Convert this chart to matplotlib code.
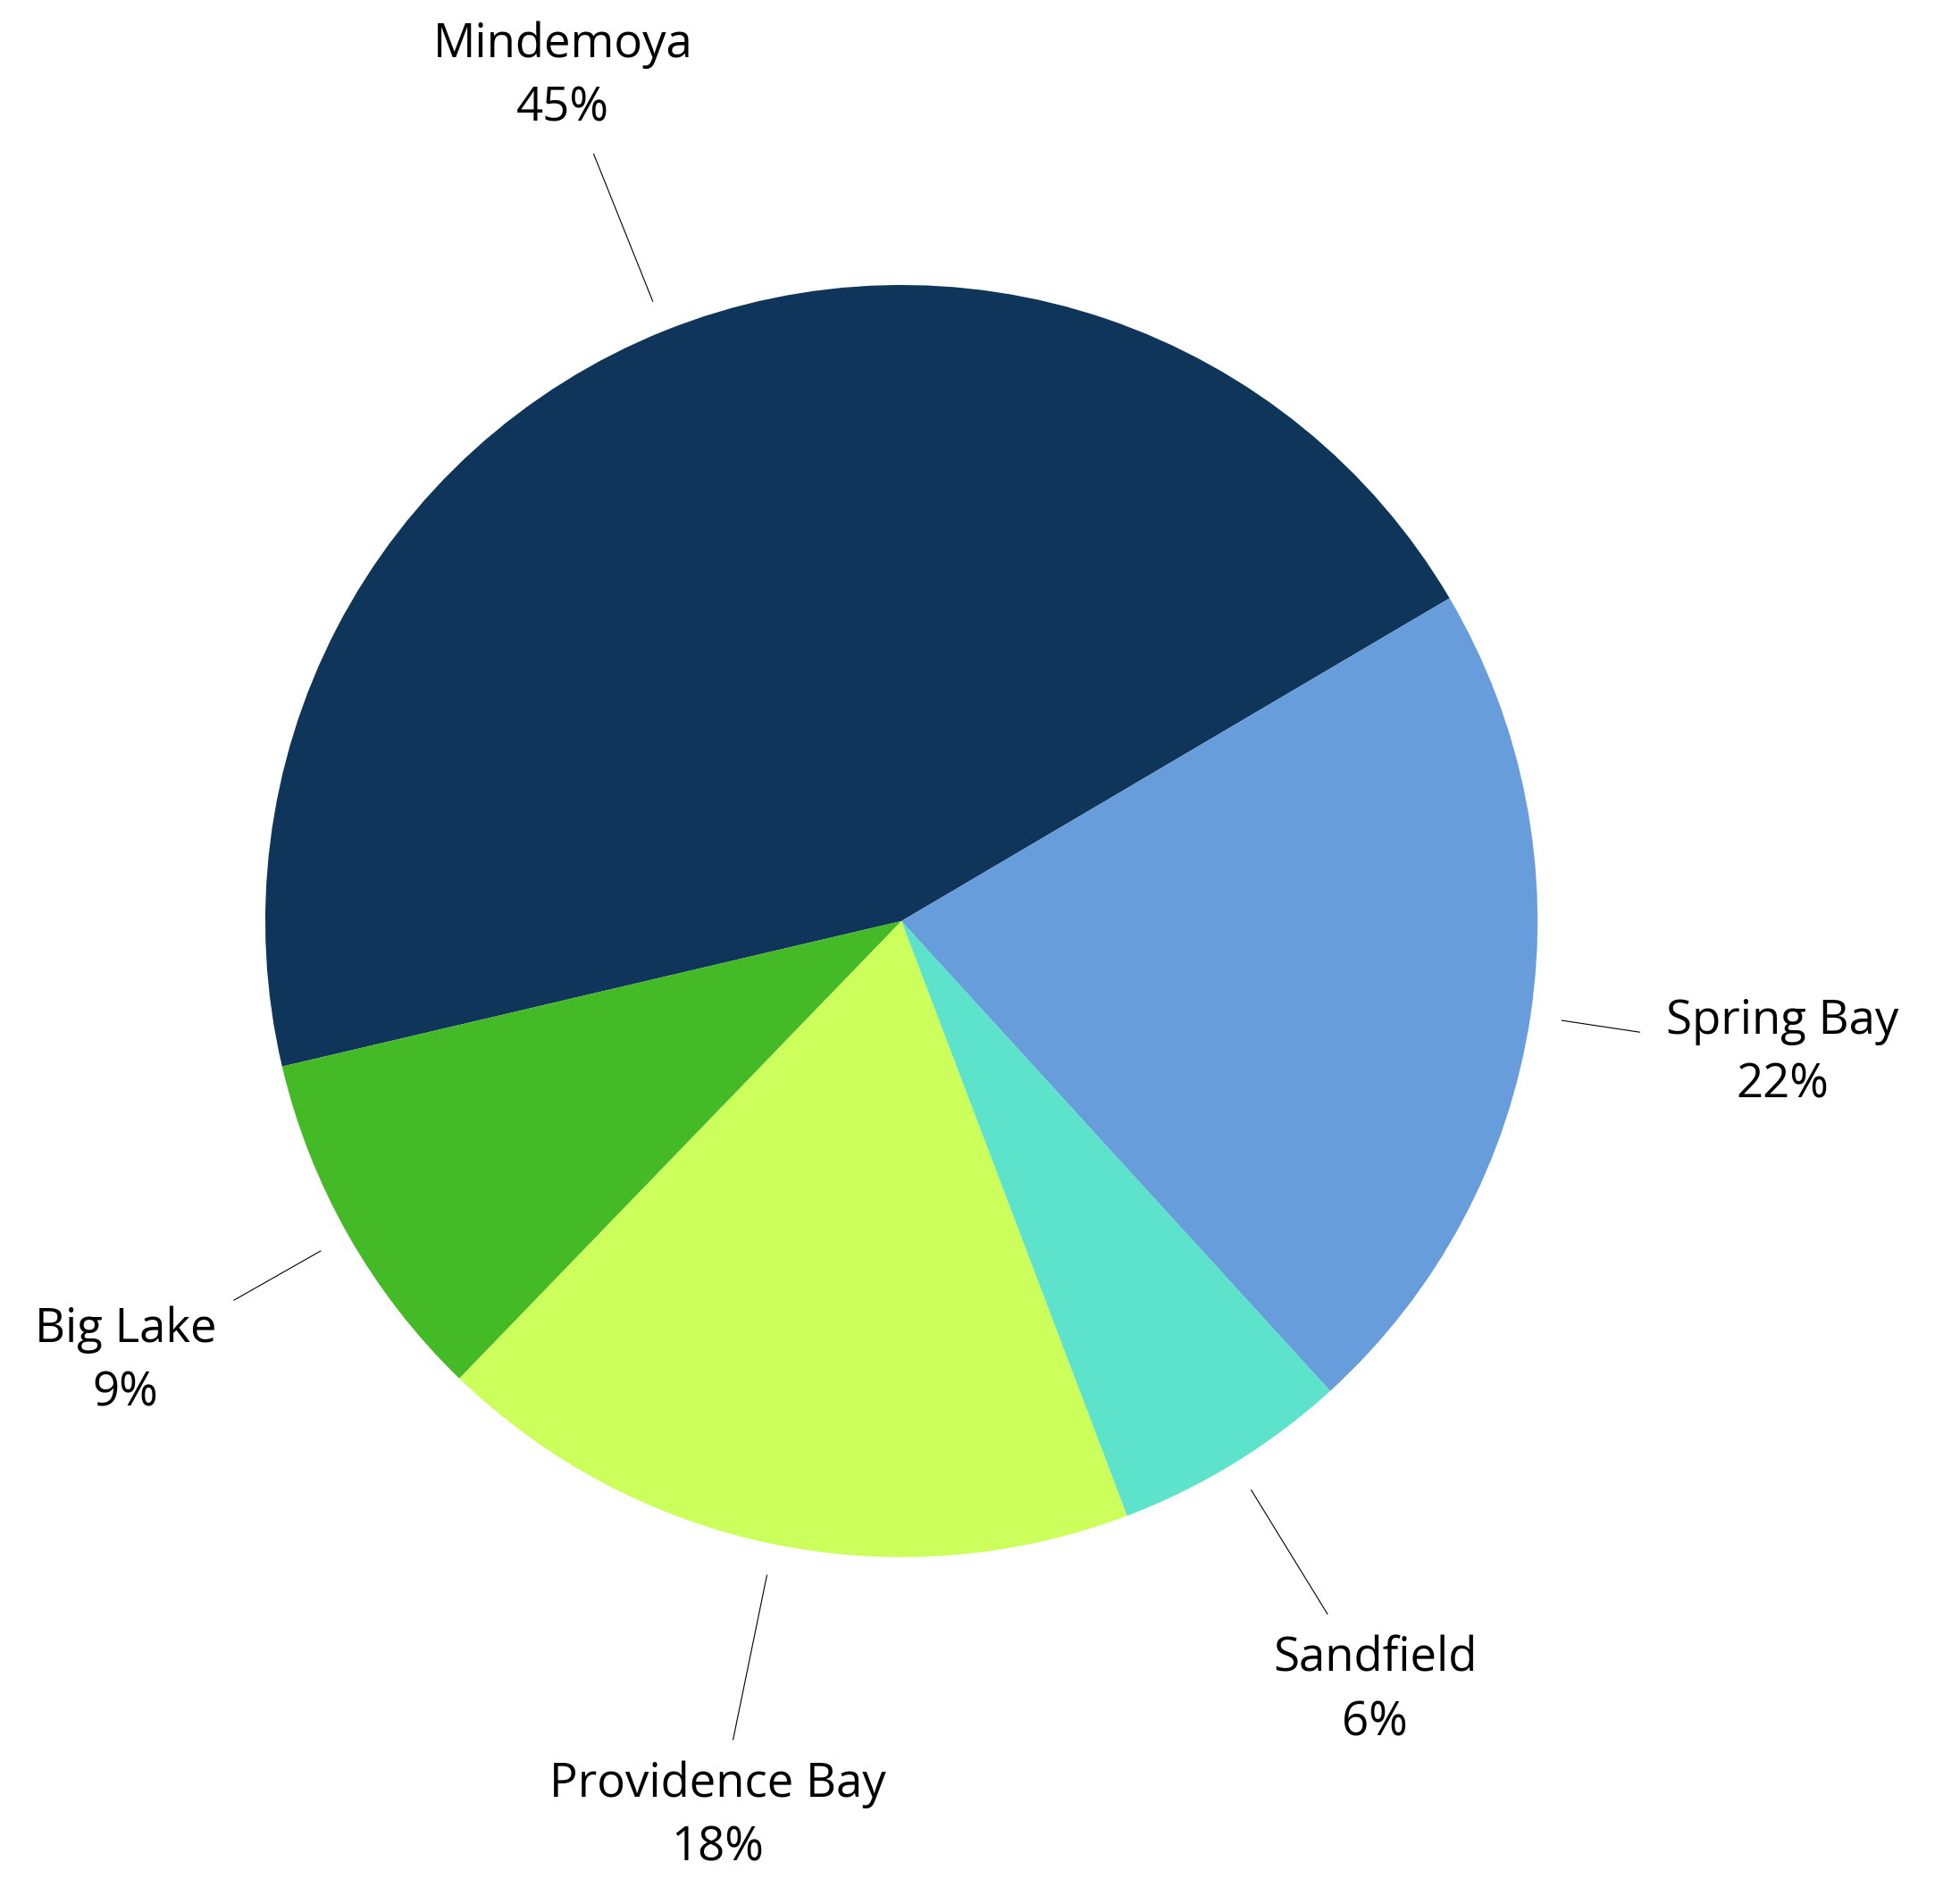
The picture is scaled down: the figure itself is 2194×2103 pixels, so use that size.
import numpy as np
import matplotlib.pyplot as plt

plt.rcParams['font.family'] = ['Open Sans', 'DejaVu Sans']

# data, counterclockwise from the start angle
towns = ['Mindemoya', 'Big Lake', 'Providence Bay', 'Sandfield', 'Spring Bay']
shares = [45.2, 9.1, 18.0, 6.0, 21.7]
colors = ['#10355A', '#44BA26', '#CCFF5C', '#5DE3CB', '#679DDA']

fig = plt.figure(figsize=(21.94, 21.03), dpi=100)
ax = fig.add_axes([0, 0, 1, 1])

start = 30.5
wedges, _ = ax.pie(shares, colors=colors, startangle=start, counterclock=True,
                   radius=1.0, center=(0, 0), wedgeprops=dict(linewidth=0))

total = sum(shares)
for w, name, val in zip(wedges, towns, shares):
    mid = np.deg2rad((w.theta1 + w.theta2) / 2)
    c, s = np.cos(mid), np.sin(mid)
    r_in = 1.05
    r_out = 1.17 + 0.15 * s ** 2
    r_txt = 1.40 + 0.04 * s ** 4
    ax.plot([r_in * c, r_out * c], [r_in * s, r_out * s], color='black', lw=0.8)
    ax.text(r_txt * c, r_txt * s, f"{name}\n{round(100 * val / total)}%",
            ha='center', va='center', fontsize=38, color='black',
            linespacing=1.45)

ax.set_xlim(-1.417, 1.664)
ax.set_ylim(-1.506, 1.448)
ax.set_aspect('auto')
ax.axis('off')

fig.savefig('out.png', dpi=100, facecolor='white')
